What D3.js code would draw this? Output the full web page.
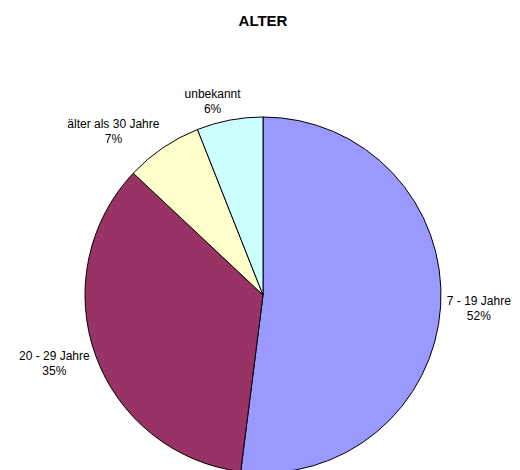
<!DOCTYPE html>
<html>
<head>
<meta charset="utf-8">
<script src="https://cdn.jsdelivr.net/npm/d3@7"></script>
<style>
  html, body { margin: 0; padding: 0; background: #fff; }
  svg { display: block; font-family: Arial, "Liberation Sans", sans-serif; }
</style>
</head>
<body>
<svg id="chart" width="520" height="470"></svg>
<script>
// Altersverteilung
const categories = ["7 - 19 Jahre", "20 - 29 Jahre", "älter als 30 Jahre", "unbekannt"];
const values = [52, 35, 7, 6];
const colors = ["#9999FF", "#993366", "#FFFFCC", "#CCFFFF"];
const title = "ALTER";

const W = 520, H = 470;
const cx = 263, cy = 295, r = 178;

const svg = d3.select("#chart");

svg.append("text")
  .attr("x", cx).attr("y", 26)
  .attr("text-anchor", "middle")
  .attr("font-size", 15).attr("font-weight", "bold")
  .text(title);

const data = categories.map((c, i) => ({ name: c, value: values[i], color: colors[i] }));

const pie = d3.pie().sort(null).value(d => d.value);
const arcs = pie(data);
const arc = d3.arc().innerRadius(0).outerRadius(r);

const g = svg.append("g").attr("transform", `translate(${cx},${cy})`);

g.selectAll("path.slice")
  .data(arcs)
  .join("path")
  .attr("class", "slice")
  .attr("d", arc)
  .attr("fill", d => d.data.color)
  .attr("stroke", "#000")
  .attr("stroke-width", 1);

// Beschriftungen außerhalb der Segmente
const fs = 12, lh = 15, pad = 6;
const labels = g.selectAll("g.label")
  .data(arcs)
  .join("g")
  .attr("class", "label");

labels.each(function(d) {
  const sel = d3.select(this);
  const t = sel.append("text")
    .attr("text-anchor", "middle")
    .attr("font-size", fs)
    .attr("fill", "#000");
  t.append("tspan").attr("x", 0).attr("y", -2).text(d.data.name);
  t.append("tspan").attr("x", 0).attr("y", -2 + lh).text(d.data.value + "%");
  const w = t.node().getBBox().width;
  const h = lh * 2;
  const a = (d.startAngle + d.endAngle) / 2;
  const s = Math.sin(a), c = Math.cos(a);
  const R = r + pad;
  const k = Math.min(1, Math.abs(s) * 3);
  const x = R * s + Math.sign(s) * k * w / 2;
  const y = -R * c - c * h / 2;
  sel.attr("transform", `translate(${x},${y})`);
});
</script>
</body>
</html>
